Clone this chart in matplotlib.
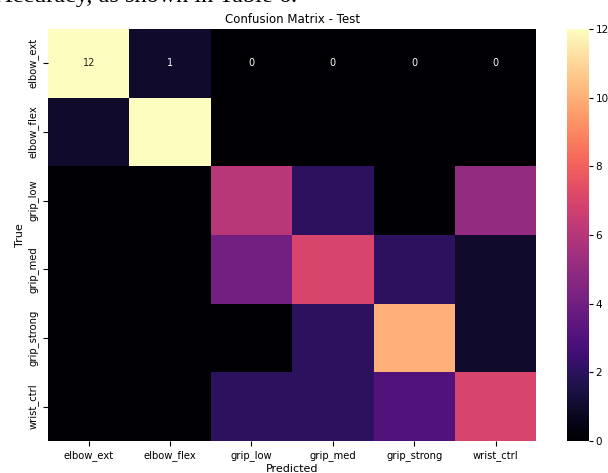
import numpy as np
import matplotlib
matplotlib.use("Agg")
import matplotlib.pyplot as plt
import seaborn as sns

classes = ["elbow_ext", "elbow_flex", "grip_low", "grip_med", "grip_strong", "wrist_ctrl"]
cm = np.array([
    [12, 1, 0, 0, 0, 0],
    [1, 12, 0, 0, 0, 0],
    [0, 0, 6, 2, 0, 5],
    [0, 0, 4, 7, 2, 1],
    [0, 0, 0, 2, 10, 1],
    [0, 0, 2, 2, 3, 7],
])
cbar_ticks = [0, 2, 4, 6, 8, 10, 12]

# only the first row carries numbers in the original figure
etiquetas = np.full(cm.shape, "", dtype=object)
etiquetas[0] = [str(v) for v in cm[0]]

fig = plt.figure(figsize=(6.08, 4.73), dpi=100)
ax = fig.add_axes([0.079, 0.068, 0.803, 0.871])
cax = fig.add_axes([0.933, 0.068, 0.035, 0.871])

sns.heatmap(cm, annot=etiquetas, fmt="", cmap="magma", vmin=0, vmax=12,
            xticklabels=classes, yticklabels=classes, ax=ax, cbar_ax=cax,
            annot_kws={"fontsize": 7})

ax.set_title("Confusion Matrix - Test", fontsize=8.5, pad=4)
ax.set_xlabel("Predicted", fontsize=8, labelpad=2)
ax.set_ylabel("True", fontsize=8, labelpad=2)
ax.tick_params(labelsize=7.2)
plt.setp(ax.get_yticklabels(), rotation=90, va="center")
cax.set_yticks(cbar_ticks)
cax.tick_params(labelsize=7.5, length=3, pad=2)

# texto do artigo cortado no topo
fig.text(-0.008, 1 - 2 / 473, "Accuracy, as shown in Table 6.", fontsize=17.5,
         family="Liberation Serif", va="baseline", ha="left")

fig.savefig("out.png", dpi=100)
